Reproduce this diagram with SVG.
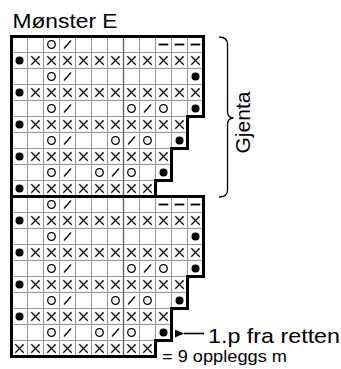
<svg xmlns="http://www.w3.org/2000/svg" xmlns:xlink="http://www.w3.org/1999/xlink" width="341" height="369" viewBox="0 0 341 369">
<style>
text{font-family:"Liberation Sans",Arial,sans-serif;fill:#000}
.grid{stroke:#999;stroke-width:1;fill:none}
.grid7{stroke:#666;stroke-width:1.4;fill:none}
.outline{stroke:#000;stroke-width:3;fill:none;stroke-linejoin:miter}
.sym{stroke:#000;fill:none;stroke-width:1.3}
</style>
<defs>
<circle id="o" r="3.8" class="sym"/>
<line id="sl" x1="-3.5" y1="4" x2="3.5" y2="-4" class="sym"/>
<path id="x" d="M-4.2,-4.2L4.2,4.2M-4.2,4.2L4.2,-4.2" class="sym"/>
<circle id="d" r="4" fill="#000"/>
<line id="m" x1="-4.8" y1="0" x2="4.8" y2="0" stroke="#000" stroke-width="1.8"/>
<marker id="ah" markerWidth="10" markerHeight="8" refX="0" refY="4" orient="auto" markerUnits="userSpaceOnUse"><path d="M0,4L9,0L9,8Z" fill="#000"/></marker>
</defs>
<rect width="341" height="369" fill="#fff"/>
<text id="title" x="12.5" y="28.3" font-size="20" textLength="105" lengthAdjust="spacingAndGlyphs">Mønster E</text>

<g id="grid">
<path class="grid" d="M27.5,36.5V356.5M43.5,36.5V356.5M59.5,36.5V356.5M75.5,36.5V356.5M91.5,36.5V356.5M107.5,36.5V356.5M139.5,36.5V356.5
M155.5,36.5V180.5M155.5,196.5V340.5
M171.5,36.5V148.5M171.5,196.5V308.5
M187.5,36.5V116.5M187.5,196.5V276.5
M11.5,52.5H203.5M11.5,68.5H203.5M11.5,84.5H203.5M11.5,100.5H203.5M11.5,116.5H187.5M11.5,132.5H187.5M11.5,148.5H171.5M11.5,164.5H171.5M11.5,180.5H155.5
M11.5,212.5H203.5M11.5,228.5H203.5M11.5,244.5H203.5M11.5,260.5H203.5M11.5,276.5H187.5M11.5,292.5H187.5M11.5,308.5H171.5M11.5,324.5H171.5M11.5,340.5H155.5"/>
<path class="grid7" d="M123.5,36.5V356.5"/>
</g>

<g id="symbols">
<!-- r0 -->
<use href="#o" x="51.5" y="44.5"/><use href="#sl" x="67.5" y="44.5"/><use href="#m" x="163.5" y="44.5"/><use href="#m" x="179.5" y="44.5"/><use href="#m" x="195.5" y="44.5"/>
<!-- r1 -->
<use href="#d" x="19.5" y="60.5"/><use href="#x" x="35.5" y="60.5"/><use href="#x" x="51.5" y="60.5"/><use href="#x" x="67.5" y="60.5"/><use href="#x" x="83.5" y="60.5"/><use href="#x" x="99.5" y="60.5"/><use href="#x" x="115.5" y="60.5"/><use href="#x" x="131.5" y="60.5"/><use href="#x" x="147.5" y="60.5"/><use href="#x" x="163.5" y="60.5"/><use href="#x" x="179.5" y="60.5"/><use href="#x" x="195.5" y="60.5"/>
<!-- r2 -->
<use href="#o" x="51.5" y="76.5"/><use href="#sl" x="67.5" y="76.5"/><use href="#d" x="195.5" y="76.5"/>
<!-- r3 -->
<use href="#d" x="19.5" y="92.5"/><use href="#x" x="35.5" y="92.5"/><use href="#x" x="51.5" y="92.5"/><use href="#x" x="67.5" y="92.5"/><use href="#x" x="83.5" y="92.5"/><use href="#x" x="99.5" y="92.5"/><use href="#x" x="115.5" y="92.5"/><use href="#x" x="131.5" y="92.5"/><use href="#x" x="147.5" y="92.5"/><use href="#x" x="163.5" y="92.5"/><use href="#x" x="179.5" y="92.5"/><use href="#x" x="195.5" y="92.5"/>
<!-- r4 -->
<use href="#o" x="51.5" y="108.5"/><use href="#sl" x="67.5" y="108.5"/><use href="#o" x="131.5" y="108.5"/><use href="#sl" x="147.5" y="108.5"/><use href="#o" x="163.5" y="108.5"/><use href="#d" x="195.5" y="108.5"/>
<!-- r5 -->
<use href="#d" x="19.5" y="124.5"/><use href="#x" x="35.5" y="124.5"/><use href="#x" x="51.5" y="124.5"/><use href="#x" x="67.5" y="124.5"/><use href="#x" x="83.5" y="124.5"/><use href="#x" x="99.5" y="124.5"/><use href="#x" x="115.5" y="124.5"/><use href="#x" x="131.5" y="124.5"/><use href="#x" x="147.5" y="124.5"/><use href="#x" x="163.5" y="124.5"/><use href="#x" x="179.5" y="124.5"/>
<!-- r6 -->
<use href="#o" x="51.5" y="140.5"/><use href="#sl" x="67.5" y="140.5"/><use href="#o" x="115.5" y="140.5"/><use href="#sl" x="131.5" y="140.5"/><use href="#o" x="147.5" y="140.5"/><use href="#d" x="179.5" y="140.5"/>
<!-- r7 -->
<use href="#d" x="19.5" y="156.5"/><use href="#x" x="35.5" y="156.5"/><use href="#x" x="51.5" y="156.5"/><use href="#x" x="67.5" y="156.5"/><use href="#x" x="83.5" y="156.5"/><use href="#x" x="99.5" y="156.5"/><use href="#x" x="115.5" y="156.5"/><use href="#x" x="131.5" y="156.5"/><use href="#x" x="147.5" y="156.5"/><use href="#x" x="163.5" y="156.5"/>
<!-- r8 -->
<use href="#o" x="51.5" y="172.5"/><use href="#sl" x="67.5" y="172.5"/><use href="#o" x="99.5" y="172.5"/><use href="#sl" x="115.5" y="172.5"/><use href="#o" x="131.5" y="172.5"/><use href="#d" x="163.5" y="172.5"/>
<!-- r9 -->
<use href="#d" x="19.5" y="188.5"/><use href="#x" x="35.5" y="188.5"/><use href="#x" x="51.5" y="188.5"/><use href="#x" x="67.5" y="188.5"/><use href="#x" x="83.5" y="188.5"/><use href="#x" x="99.5" y="188.5"/><use href="#x" x="115.5" y="188.5"/><use href="#x" x="131.5" y="188.5"/><use href="#x" x="147.5" y="188.5"/>
<!-- r10 -->
<use href="#o" x="51.5" y="204.5"/><use href="#sl" x="67.5" y="204.5"/><use href="#m" x="163.5" y="204.5"/><use href="#m" x="179.5" y="204.5"/><use href="#m" x="195.5" y="204.5"/>
<!-- r11 -->
<use href="#d" x="19.5" y="220.5"/><use href="#x" x="35.5" y="220.5"/><use href="#x" x="51.5" y="220.5"/><use href="#x" x="67.5" y="220.5"/><use href="#x" x="83.5" y="220.5"/><use href="#x" x="99.5" y="220.5"/><use href="#x" x="115.5" y="220.5"/><use href="#x" x="131.5" y="220.5"/><use href="#x" x="147.5" y="220.5"/><use href="#x" x="163.5" y="220.5"/><use href="#x" x="179.5" y="220.5"/><use href="#x" x="195.5" y="220.5"/>
<!-- r12 -->
<use href="#o" x="51.5" y="236.5"/><use href="#sl" x="67.5" y="236.5"/><use href="#d" x="195.5" y="236.5"/>
<!-- r13 -->
<use href="#d" x="19.5" y="252.5"/><use href="#x" x="35.5" y="252.5"/><use href="#x" x="51.5" y="252.5"/><use href="#x" x="67.5" y="252.5"/><use href="#x" x="83.5" y="252.5"/><use href="#x" x="99.5" y="252.5"/><use href="#x" x="115.5" y="252.5"/><use href="#x" x="131.5" y="252.5"/><use href="#x" x="147.5" y="252.5"/><use href="#x" x="163.5" y="252.5"/><use href="#x" x="179.5" y="252.5"/><use href="#x" x="195.5" y="252.5"/>
<!-- r14 -->
<use href="#o" x="51.5" y="268.5"/><use href="#sl" x="67.5" y="268.5"/><use href="#o" x="131.5" y="268.5"/><use href="#sl" x="147.5" y="268.5"/><use href="#o" x="163.5" y="268.5"/><use href="#d" x="195.5" y="268.5"/>
<!-- r15 -->
<use href="#d" x="19.5" y="284.5"/><use href="#x" x="35.5" y="284.5"/><use href="#x" x="51.5" y="284.5"/><use href="#x" x="67.5" y="284.5"/><use href="#x" x="83.5" y="284.5"/><use href="#x" x="99.5" y="284.5"/><use href="#x" x="115.5" y="284.5"/><use href="#x" x="131.5" y="284.5"/><use href="#x" x="147.5" y="284.5"/><use href="#x" x="163.5" y="284.5"/><use href="#x" x="179.5" y="284.5"/>
<!-- r16 -->
<use href="#o" x="51.5" y="300.5"/><use href="#sl" x="67.5" y="300.5"/><use href="#o" x="115.5" y="300.5"/><use href="#sl" x="131.5" y="300.5"/><use href="#o" x="147.5" y="300.5"/><use href="#d" x="179.5" y="300.5"/>
<!-- r17 -->
<use href="#d" x="19.5" y="316.5"/><use href="#x" x="35.5" y="316.5"/><use href="#x" x="51.5" y="316.5"/><use href="#x" x="67.5" y="316.5"/><use href="#x" x="83.5" y="316.5"/><use href="#x" x="99.5" y="316.5"/><use href="#x" x="115.5" y="316.5"/><use href="#x" x="131.5" y="316.5"/><use href="#x" x="147.5" y="316.5"/><use href="#x" x="163.5" y="316.5"/>
<!-- r18 -->
<use href="#o" x="51.5" y="332.5"/><use href="#sl" x="67.5" y="332.5"/><use href="#o" x="99.5" y="332.5"/><use href="#sl" x="115.5" y="332.5"/><use href="#o" x="131.5" y="332.5"/><use href="#d" x="163.5" y="332.5"/>
<!-- r19 -->
<use href="#x" x="19.5" y="348.5"/><use href="#x" x="35.5" y="348.5"/><use href="#x" x="51.5" y="348.5"/><use href="#x" x="67.5" y="348.5"/><use href="#x" x="83.5" y="348.5"/><use href="#x" x="99.5" y="348.5"/><use href="#x" x="115.5" y="348.5"/><use href="#x" x="131.5" y="348.5"/><use href="#x" x="147.5" y="348.5"/>
</g>

<g id="outline-upper">
<path class="outline" d="M11.5,36.5H203.5V116.5H187.5V148.5H171.5V180.5H155.5V196.5H11.5Z"/>
</g>
<g id="outline-lower">
<path class="outline" d="M11.5,196.5H203.5V276.5H187.5V308.5H171.5V340.5H155.5V356.5H11.5Z"/>
</g>

<g id="brace">
<path d="M219,37C224.5,37 227.5,39.5 227.5,44.5V111C227.5,115.5 229.5,118 233.5,118C229.5,118 227.5,120.5 227.5,125V190C227.5,194.5 224.5,197 219,197" fill="none" stroke="#000" stroke-width="1.3"/>
<text id="gjenta" transform="translate(249.5,122.5) rotate(-90)" font-size="19.5" text-anchor="middle" textLength="62" lengthAdjust="spacingAndGlyphs">Gjenta</text>
</g>

<g id="connectors">
<line x1="204" y1="333.5" x2="184" y2="333.5" stroke="#000" stroke-width="1.6" marker-end="url(#ah)"/>
</g>

<g id="labels">
<text id="start" x="208" y="343.3" font-size="21" textLength="132" lengthAdjust="spacingAndGlyphs">1.p fra retten</text>
<text id="count" x="162" y="362" font-size="16" textLength="125" lengthAdjust="spacingAndGlyphs">= 9 oppleggs m</text>
</g>
</svg>
